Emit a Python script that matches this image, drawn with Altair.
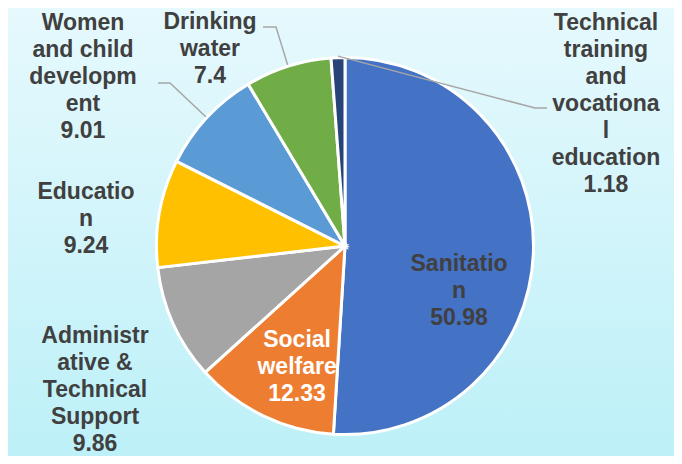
import math
import altair as alt
import pandas as pd

# ---- data ----
categories = ["Sanitation", "Social welfare", "Administrative & Technical Support",
              "Education", "Women and child development", "Drinking water",
              "Technical training and vocational education"]
values = [50.98, 12.33, 9.86, 9.24, 9.01, 7.4, 1.18]
value_text = ["50.98", "12.33", "9.86", "9.24", "9.01", "7.4", "1.18"]
label_lines = ["Sanitatio\nn", "Social\nwelfare", "Administr\native &\nTechnical\nSupport",
               "Educatio\nn", "Women\nand child\ndevelopm\nent", "Drinking\nwater",
               "Technical\ntraining\nand\nvocationa\nl\neducation"]

# ---- styles / layout ----
colors = ["#4472C4", "#ED7D31", "#A5A5A5", "#FFC000", "#5B9BD5", "#70AD47", "#264478"]
text_colors = ["#404040", "#FFFFFF", "#404040", "#404040", "#404040", "#404040", "#404040"]
label_angle_deg = [111.5, 201.6, 240.06, 275.95, 302.83, 325.58, 61.45]
label_radius = [122.6, 130.2, 288.5, 260.4, 311.8, 238.8, 297.1]
W, H = 666, 448
CX, CY = 337, 238
R = 188.5
LH = 27
leader_cats = ["Women and child development", "Drinking water",
               "Technical training and vocational education"]
leader_elbow = [(162, 75), (268, 19), (527, 100)]
leader_end = [(150, 75), (255, 19), (539, 100)]

labels_full = [l + "\n" + v for l, v in zip(label_lines, value_text)]
nlines = [s.count("\n") + 1 for s in labels_full]
lx = [CX + r * math.sin(math.radians(a)) for a, r in zip(label_angle_deg, label_radius)]
ly = [CY - r * math.cos(math.radians(a)) - (n - 1) * LH / 2
      for a, r, n in zip(label_angle_deg, label_radius, nlines)]

df = pd.DataFrame({
    "cat": categories, "value": values, "idx": list(range(len(categories))),
    "color": colors, "tcol": text_colors, "label": labels_full,
    "lx": lx, "ly": ly,
})

# leader lines: start at the slice's mid angle on the pie edge
cum = df["value"].cumsum() - df["value"] / 2
rows = []
for k, c in enumerate(leader_cats):
    i = categories.index(c)
    a = cum[i] / 100 * 2 * math.pi
    pts = [(CX + (R + 1.5) * math.sin(a), CY - (R + 1.5) * math.cos(a)),
           leader_elbow[k], leader_end[k]]
    for j, (px, py) in enumerate(pts):
        rows.append({"cat": c, "o": j, "px": px, "py": py})
lead = pd.DataFrame(rows)

bg = alt.Chart(pd.DataFrame({"a": [0]})).mark_rect(
    color=alt.Gradient(gradient="linear",
                       stops=[alt.GradientStop(color="#E6F9FD", offset=0),
                              alt.GradientStop(color="#BDF0F8", offset=1)],
                       x1=0, x2=0, y1=0, y2=1)
).encode(x=alt.value(0), x2=alt.value(W), y=alt.value(0), y2=alt.value(H))

pie = alt.Chart(df).mark_arc(outerRadius=R, stroke="white", strokeWidth=3).encode(
    theta=alt.Theta("value:Q", stack=True, scale=alt.Scale(domain=[0, 100])),
    color=alt.Color("color:N", scale=None),
    order=alt.Order("idx:Q"),
    x=alt.value(CX), y=alt.value(CY),
)

lines = alt.Chart(lead).mark_line(color="#A6A6A6", strokeWidth=1.5).encode(
    x=alt.X("px:Q", scale=None, axis=None),
    y=alt.Y("py:Q", scale=None, axis=None),
    detail="cat:N", order="o:Q",
)

labels = alt.Chart(df).mark_text(
    font="Liberation Sans", fontWeight="bold", fontSize=23, lineHeight=LH,
    lineBreak="\n", align="center", baseline="middle",
).encode(
    x=alt.X("lx:Q", scale=None, axis=None),
    y=alt.Y("ly:Q", scale=None, axis=None),
    text="label:N",
    color=alt.Color("tcol:N", scale=None),
)

chart = alt.layer(bg, pie, lines, labels).properties(
    width=W, height=H, padding=0,
    autosize=alt.AutoSizeParams(type="fit", contains="padding"),
    background="#D8F6FB",
).configure_view(stroke=None)

chart.save("out.html", embed_options={"renderer": "svg", "actions": False})
